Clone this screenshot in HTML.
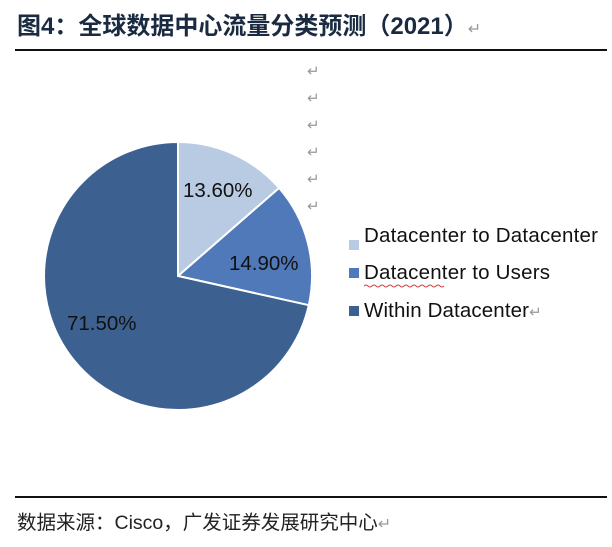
<!DOCTYPE html>
<html><head><meta charset="utf-8"><style>
body{margin:0;background:#fff;width:612px;height:547px;overflow:hidden;position:relative;font-family:"Liberation Sans","Noto Sans CJK SC",sans-serif}
.t{position:absolute;left:17px;top:6px;font-size:24px;font-weight:bold;color:#1a2a40;white-space:nowrap}
.hr{position:absolute;left:15px;width:592px;height:1.5px;background:#111}
.f{position:absolute;left:17px;top:506px;font-size:19.5px;color:#222;white-space:nowrap}
.ret{color:#999;font-weight:normal;font-size:16px}
</style></head><body>
<div class="t">图4：全球数据中心流量分类预测（2021）<span class="ret">↵</span></div>
<div class="hr" style="top:49px"></div>
<svg width="612" height="547" style="position:absolute;left:0;top:0" font-family="Liberation Sans, sans-serif">
<path d="M178,276 L178,142 A134,134 0 0 1 279.1,188 Z" fill="#b9cbe3" stroke="#fff" stroke-width="2"/>
<path d="M178,276 L279.1,188 A134,134 0 0 1 308.8,305.2 Z" fill="#5079b9" stroke="#fff" stroke-width="2"/>
<path d="M178,276 L308.8,305.2 A134,134 0 1 1 178,142 Z" fill="#3c6191" stroke="#fff" stroke-width="2"/>
<text x="183" y="197" font-size="20.5" fill="#111">13.60%</text>
<text x="229" y="270" font-size="20.5" fill="#111">14.90%</text>
<text x="67" y="330" font-size="20.5" fill="#111">71.50%</text>
<g fill="#999" font-size="15">
<text x="307" y="76">↵</text><text x="307" y="103">↵</text><text x="307" y="130">↵</text><text x="307" y="157">↵</text><text x="307" y="184">↵</text><text x="307" y="211">↵</text>
</g>
<rect x="349" y="240" width="10" height="10" fill="#b9cbe3"/>
<rect x="349" y="268" width="10" height="10" fill="#5079b9"/>
<rect x="349" y="306" width="10" height="10" fill="#3c6191"/>
<g font-size="20.5" fill="#111">
<text x="364" y="242" textLength="234">Datacenter to Datacenter</text>
<text x="364" y="279" textLength="186">Datacenter to Users</text>
<text x="364" y="317"><tspan textLength="165">Within Datacenter</tspan><tspan fill="#999" font-size="15">↵</tspan></text>
</g>
<path d="M364,286 q2,-2 4,0 t4,0 t4,0 t4,0 t4,0 t4,0 t4,0 t4,0 t4,0 t4,0 t4,0 t4,0 t4,0 t4,0 t4,0 t4,0 t4,0 t4,0 t4,0 t4,0" fill="none" stroke="#d04040" stroke-width="1"/>
</svg>
<div class="hr" style="top:496px"></div>
<div class="f">数据来源：Cisco，广发证券发展研究中心<span class="ret">↵</span></div>
</body></html>
